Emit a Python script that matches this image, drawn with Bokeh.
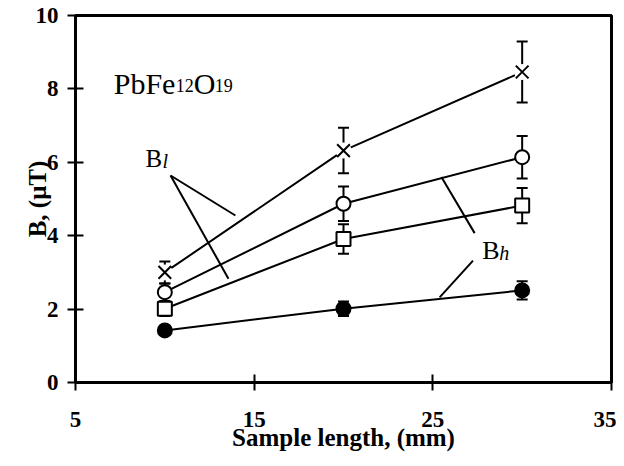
from bokeh.plotting import figure
from bokeh.models import Range1d, FixedTicker, Whisker, TeeHead, ColumnDataSource
from bokeh.core.properties import value
from bokeh.embed import file_html
from bokeh.resources import INLINE

# ---- data ----
length_mm = [10, 20, 30]
b_cross = [3.0, 6.32, 8.46]
b_cross_err = [0.3, 0.62, 0.83]
b_open_circle = [2.46, 4.87, 6.14]
b_open_circle_err = [0.24, 0.47, 0.58]
b_square = [2.01, 3.91, 4.82]
b_square_err = [0.2, 0.4, 0.48]
b_filled = [1.42, 2.01, 2.51]
b_filled_err = [0.08, 0.2, 0.25]
x_ticks = [5, 15, 25, 35]
y_ticks = [0, 2, 4, 6, 8, 10]

# ---- annotation positions (data units) ----
formula_pos = (7.14, 7.87)
bl_pos = (8.92, 5.83)
bh_pos = (27.76, 3.32)
bl_ptr_x0 = [10.32, 10.32]
bl_ptr_y0 = [5.64, 5.64]
bl_ptr_x1 = [13.95, 13.56]
bl_ptr_y1 = [4.55, 2.83]
bh_ptr_x0 = [27.34, 27.25]
bh_ptr_y0 = [4.07, 3.32]
bh_ptr_x1 = [25.48, 25.38]
bh_ptr_y1 = [5.60, 2.32]

SERIF = "Liberation Serif"
TEXT_DY = -10  # baseline correction in pixels

p = figure(width=616, height=458, output_backend="svg", toolbar_location=None,
           x_range=Range1d(5, 35), y_range=Range1d(0, 10),
           min_border_left=75, min_border_right=5, min_border_top=15, min_border_bottom=76,
           x_axis_label="Sample length, (mm)", y_axis_label="B, (\u03bcT)")
p.grid.visible = False
p.outline_line_color = "black"
p.outline_line_width = 3
p.outline_line_alpha = 1.0
p.background_fill_color = "white"
p.border_fill_color = "white"

p.xaxis.ticker = FixedTicker(ticks=x_ticks)
p.yaxis.ticker = FixedTicker(ticks=y_ticks)
for ax in (p.xaxis, p.yaxis):
    ax.axis_line_width = 3
    ax.axis_line_color = "black"
    ax.major_tick_line_width = 2
    ax.major_tick_line_color = "black"
    ax.major_tick_in = 8
    ax.major_tick_out = 8
    ax.minor_tick_line_color = None
    ax.major_label_text_font = SERIF
    ax.major_label_text_font_style = "bold"
    ax.major_label_text_font_size = "23px"
    ax.major_label_text_color = "black"
    ax.axis_label_text_font = SERIF
    ax.axis_label_text_font_style = "bold"
    ax.axis_label_text_font_size = "25px"
    ax.axis_label_text_color = "black"
p.xaxis.major_label_standoff = 21
p.xaxis.axis_label_standoff = -6
p.yaxis.major_label_standoff = 9
p.yaxis.axis_label_standoff = -18

series = [
    (b_cross, b_cross_err),
    (b_open_circle, b_open_circle_err),
    (b_square, b_square_err),
    (b_filled, b_filled_err),
]

for ys, _ in series:
    p.line(length_mm, ys, line_width=2, line_color="black")

for ys, errs in series:
    src = ColumnDataSource(dict(x=length_mm,
                                lo=[y - e for y, e in zip(ys, errs)],
                                hi=[y + e for y, e in zip(ys, errs)]))
    w = Whisker(source=src, base="x", lower="lo", upper="hi", dimension="height",
                line_width=2, line_color="black", level="underlay",
                upper_head=TeeHead(size=11, line_width=2, line_color="black"),
                lower_head=TeeHead(size=11, line_width=2, line_color="black"))
    p.add_layout(w)

p.scatter(length_mm, b_cross, marker="circle", size=16, fill_color="white", line_color=None)
p.scatter(length_mm, b_cross, marker="x", size=18, line_color="black", line_width=2)
p.scatter(length_mm, b_open_circle, marker="circle", size=14, fill_color="white",
          line_color="black", line_width=2)
p.scatter(length_mm, b_square, marker="square", size=14, fill_color="white",
          line_color="black", line_width=2)
p.scatter(length_mm, b_filled, marker="circle", size=14, fill_color="black",
          line_color="black", line_width=2)

p.segment(bl_ptr_x0, bl_ptr_y0, bl_ptr_x1, bl_ptr_y1, line_width=2, line_color="black")
p.segment(bh_ptr_x0, bh_ptr_y0, bh_ptr_x1, bh_ptr_y1, line_width=2, line_color="black")

def txt(pos, s, size, dx=0, dy=0, style="normal"):
    p.text(x=[pos[0]], y=[pos[1]], text=[s], x_offset=dx, y_offset=dy + TEXT_DY,
           text_font=value(SERIF), text_font_size=size, text_font_style=style,
           text_color="black", text_align="left", text_baseline="alphabetic")

txt(formula_pos, "PbFe", "30px")
txt(formula_pos, "12", "18px", dx=62, dy=2)
txt(formula_pos, "O", "30px", dx=80)
txt(formula_pos, "19", "18px", dx=101, dy=2)

txt(bl_pos, "B", "25px")
txt(bl_pos, "l", "20px", dx=17, dy=2, style="italic")
txt(bh_pos, "B", "26px")
txt(bh_pos, "h", "20px", dx=17, dy=2, style="italic")

open("out.html", "w").write(file_html(p, INLINE))
